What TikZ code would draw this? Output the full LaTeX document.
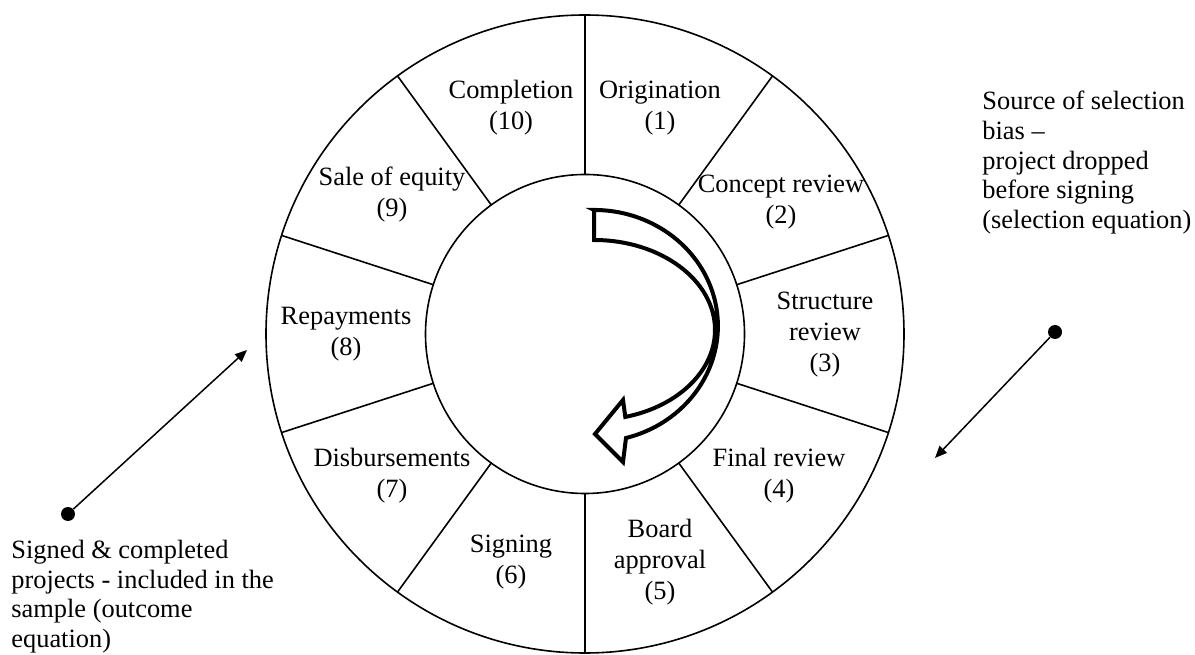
\documentclass[tikz,border=0pt]{standalone}
\usepackage{fontspec}
\setmainfont{Liberation Serif}
\usetikzlibrary{arrows.meta}

\begin{document}
\begin{tikzpicture}[x=0.5pt,y=0.5pt,
        stage/.style={align=center,inner sep=0pt,font=\fontsize{13.2}{15.5}\selectfont},
        note/.style={align=left,anchor=north west,inner sep=0pt,font=\fontsize{13.2}{14.8}\selectfont},
        pin/.style={circle,fill=black,inner sep=0pt,minimum size=7pt},
        pointer/.style={line width=0.75pt,-{Triangle[length=6pt,width=5pt]}}]
    \useasboundingbox (0,0) rectangle (1195,654);
    \draw[line width=0.8pt] (585,320) circle (319);
    \draw[line width=0.8pt] (585,320) circle (159.5);
    \draw[line width=0.8pt,shift={(585,320)}]
        (90:159.5) -- (90:319)     (54:159.5) -- (54:319)
        (18:159.5) -- (18:319)     (-18:159.5) -- (-18:319)
        (-54:159.5) -- (-54:319)   (-90:159.5) -- (-90:319)
        (-126:159.5) -- (-126:319) (-162:159.5) -- (-162:319)
        (162:159.5) -- (162:319)   (126:159.5) -- (126:319);
    \node[stage] (orig)   at (660,546) {Origination\\(1)};
    \node[stage] (concept) at (781,452) {Concept review\\(2)};
    \node[stage] (struct) at (825,319) {Structure\\review\\(3)};
    \node[stage] (final)  at (779,178) {Final review\\(4)};
    \node[stage] (board)  at (660,92)  {Board\\approval\\(5)};
    \node[stage] (sign)   at (511,92)  {Signing\\(6)};
    \node[stage] (disb)   at (392,178) {Disbursements\\(7)};
    \node[stage] (repay)  at (346,320) {Repayments\\(8)};
    \node[stage] (sale)   at (392,459) {Sale of equity\\(9)};
    \node[stage] (compl)  at (511,546) {Completion\\(10)};
    \draw[line width=2pt,fill=white] (594,444) -- (594,414)
        arc[start angle=90,end angle=-75,x radius=121,y radius=90]
        -- (623,254) -- (595,220) -- (623,192) -- (626,216)
        arc[start angle=-75,end angle=90,x radius=124,y radius=116] -- cycle;
    \node[note] (selNote) at (982,563) {Source of selection\\bias --\\project dropped\\before signing\\(selection equation)};
    \node[pin] (selDot) at (1055,322) {};
    \coordinate (selTip) at (935,196);
    \draw[pointer] (selDot) -- (selTip);
    \node[note] (smpNote) at (11,114) {Signed \& completed\\projects - included in the\\sample (outcome\\equation)};
    \node[pin] (smpDot) at (68,140) {};
    \coordinate (smpTip) at (247,304);
    \draw[pointer] (smpDot) -- (smpTip);
\end{tikzpicture}
\end{document}
